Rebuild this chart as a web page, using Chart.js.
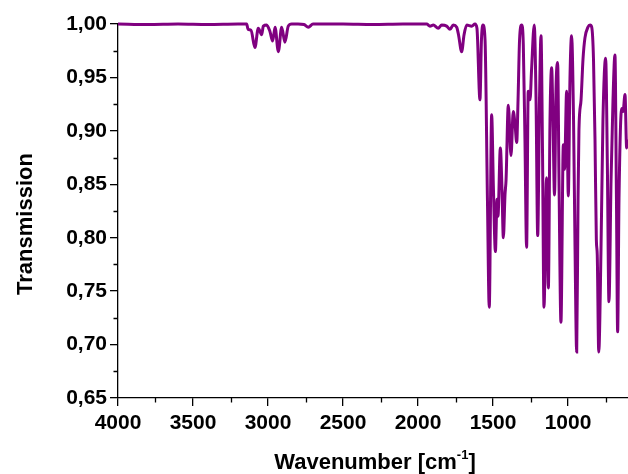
<!DOCTYPE html>
<html>
<head>
<meta charset="utf-8">
<script src="https://cdn.jsdelivr.net/npm/chart.js@4.4.1/dist/chart.umd.min.js"></script>
<style>
  html, body { margin: 0; padding: 0; background: #ffffff; }
  #wrap { width: 628px; height: 474px; }
</style>
</head>
<body>
<div id="wrap"><canvas id="c" width="628" height="474"></canvas></div>
<script>
// Wavenumber (cm-1) and transmission values
const wavenumber = [
  4000, 3800, 3600, 3400, 3200, 3142, 3133, 3113, 3087, 3065, 3042, 3031, 3009, 2987, 2969,
  2953, 2931, 2909, 2887, 2865, 2842, 2800, 2760, 2731, 2700, 2500, 2300, 2100, 2000, 1942,
  1920, 1898, 1865, 1842, 1809, 1787, 1765, 1742, 1730, 1709, 1693, 1675, 1642, 1620, 1607,
  1587, 1577, 1567, 1553, 1537, 1525, 1509, 1497, 1484, 1473, 1467, 1451, 1440, 1431, 1420,
  1413, 1398, 1380, 1365, 1353, 1342, 1333, 1323, 1309, 1298, 1287, 1276, 1265, 1253, 1243,
  1225, 1213, 1202, 1190, 1180, 1170, 1160, 1143, 1131, 1120, 1109, 1100, 1090, 1080, 1069,
  1060, 1047, 1031, 1023, 1009, 998, 987, 976, 963, 953, 942, 933, 927, 913, 900,
  887, 867, 853, 842, 830, 820, 811, 805, 795, 780, 767, 749, 738, 727, 713,
  700, 687, 677, 669, 660, 642, 633, 620, 609, 600
];
const transmission = [
  1.000, 0.9995, 1.000, 0.9995, 1.000, 1.000, 0.995, 0.994, 0.978, 0.996, 0.990, 0.998, 0.999, 0.993, 0.984,
  0.997, 0.974, 0.997, 0.983, 0.998, 1.000, 1.000, 0.9995, 0.997, 1.000, 1.000, 0.9995, 1.000, 1.000, 1.000,
  0.998, 0.999, 0.996, 0.999, 0.998, 0.995, 0.999, 0.997, 0.990, 0.974, 0.990, 0.999, 0.998, 1.000, 0.996,
  0.929, 0.985, 0.999, 0.985, 0.835, 0.735, 0.915, 0.845, 0.787, 0.836, 0.820, 0.884, 0.845, 0.800, 0.840,
  0.854, 0.924, 0.877, 0.918, 0.906, 0.889, 0.929, 0.985, 0.999, 0.981, 0.892, 0.791, 0.937, 0.929, 0.957,
  0.999, 0.929, 0.802, 0.929, 0.989, 0.882, 0.735, 0.856, 0.753, 0.910, 0.959, 0.910, 0.840, 0.939, 0.964,
  0.854, 0.721, 0.887, 0.864, 0.937, 0.839, 0.948, 0.989, 0.910, 0.789, 0.693, 0.836, 0.901, 0.929, 0.967,
  0.987, 0.997, 0.999, 0.997, 0.967, 0.892, 0.798, 0.784, 0.693, 0.789, 0.910, 0.968, 0.873, 0.740, 0.854,
  0.929, 0.971, 0.836, 0.712, 0.836, 0.921, 0.918, 0.934, 0.884, 0.892
];
const xTicks = [4000, 3500, 3000, 2500, 2000, 1500, 1000];
const xMinorTicks = [3750, 3250, 2750, 2250, 1750, 1250, 750];
const yTicks = [0.65, 0.70, 0.75, 0.80, 0.85, 0.90, 0.95, 1.00];
const yMinorTicks = [0.675, 0.725, 0.775, 0.825, 0.875, 0.925, 0.975];
const xTitleMain = 'Wavenumber [cm';
const xTitleSup = '-1';
const xTitleEnd = ']';
const yTitle = 'Transmission';

const FONT = '"Liberation Sans", Arial, sans-serif';

const extras = {
  id: 'extras',
  afterDraw(chart) {
    const ctx = chart.ctx;
    const xs = chart.scales.x, ys = chart.scales.y;
    const area = chart.chartArea;
    ctx.save();
    ctx.strokeStyle = '#000';
    ctx.lineWidth = 1.3;
    ctx.beginPath();
    xMinorTicks.forEach(v => {
      const p = Math.round(xs.getPixelForValue(v)) + 0.5;
      ctx.moveTo(p, area.bottom);
      ctx.lineTo(p, area.bottom + 4.5);
    });
    yMinorTicks.forEach(v => {
      const p = Math.round(ys.getPixelForValue(v)) + 0.5;
      ctx.moveTo(area.left - 4.5, p);
      ctx.lineTo(area.left, p);
    });
    ctx.stroke();

    ctx.fillStyle = '#000';
    // x title with superscript
    const mainFont = 'bold 22px ' + FONT;
    const supFont = 'bold 13px ' + FONT;
    ctx.font = mainFont;
    const w1 = ctx.measureText(xTitleMain).width;
    const w3 = ctx.measureText(xTitleEnd).width;
    ctx.font = supFont;
    const w2 = ctx.measureText(xTitleSup).width;
    const total = w1 + w2 + w3;
    const cx = (area.left + area.right) / 2 + 2;
    let sx = cx - total / 2;
    const base = 469;
    ctx.textBaseline = 'alphabetic';
    ctx.textAlign = 'left';
    ctx.font = mainFont;
    ctx.fillText(xTitleMain, sx, base);
    ctx.font = supFont;
    ctx.fillText(xTitleSup, sx + w1, base - 10);
    ctx.font = mainFont;
    ctx.fillText(xTitleEnd, sx + w1 + w2, base);

    // y title
    ctx.translate(31.5, 224);
    ctx.rotate(-Math.PI / 2);
    ctx.textAlign = 'center';
    ctx.font = mainFont;
    ctx.fillText(yTitle, 0, 0);
    ctx.restore();
  }
};

new Chart(document.getElementById('c'), {
  type: 'line',
  data: {
    datasets: [{
      data: wavenumber.map((w, i) => ({ x: w, y: transmission[i] })),
      borderColor: '#800080',
      borderWidth: 3,
      pointRadius: 0,
      fill: false,
      cubicInterpolationMode: 'monotone',
      clip: 6
    }]
  },
  options: {
    responsive: false,
    animation: false,
    devicePixelRatio: 1,
    layout: { padding: { top: 24, right: 0, bottom: 0, left: 0 } },
    plugins: { legend: { display: false }, tooltip: { enabled: false }, title: { display: false } },
    scales: {
      x: {
        type: 'linear',
        reverse: true,
        min: 600,
        max: 4000,
        afterBuildTicks: s => { s.ticks = xTicks.map(v => ({ value: v })); },
        afterFit: s => { s.height = 76; },
        grid: { display: true, drawOnChartArea: false, drawTicks: true, tickLength: 8, color: '#000', lineWidth: 1.3 },
        border: { display: true, color: '#000', width: 1.3 },
        ticks: {
          autoSkip: false, maxRotation: 0, padding: 5, color: '#000',
          font: { family: FONT, size: 21, weight: 'bold' },
          callback: v => String(v)
        }
      },
      y: {
        type: 'linear',
        min: 0.65,
        max: 1.0,
        afterBuildTicks: s => { s.ticks = yTicks.map(v => ({ value: v })); },
        afterFit: s => { s.width = 118; },
        grid: { display: true, drawOnChartArea: false, drawTicks: true, tickLength: 8, color: '#000', lineWidth: 1.3 },
        border: { display: true, color: '#000', width: 1.3 },
        ticks: {
          autoSkip: false, padding: 3, color: '#000',
          font: { family: FONT, size: 21, weight: 'bold' },
          callback: v => v.toFixed(2).replace('.', ',')
        }
      }
    }
  },
  plugins: [extras]
});
</script>
</body>
</html>
